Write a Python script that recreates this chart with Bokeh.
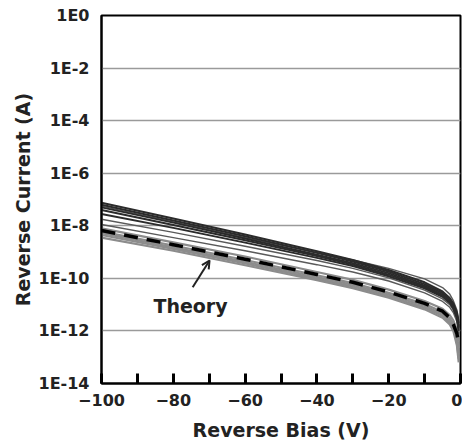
from bokeh.plotting import figure
from bokeh.models import FixedTicker, CustomJSTickFormatter, Arrow, OpenHead
from bokeh.core.properties import value
from bokeh.embed import file_html
from bokeh.resources import INLINE

# Reverse bias voltages (V)
bias = [-100, -80, -60, -40, -30, -20, -10, -5, -3, -2, -1, -0.5]

# log10 of reverse current (A)
dark_curves = [
    [-7.12, -7.72, -8.33, -8.97, -9.30, -9.68, -10.15, -10.50, -10.75, -10.95, -11.30, -11.70],
    [-7.20, -7.80, -8.40, -9.03, -9.36, -9.74, -10.22, -10.56, -10.80, -11.00, -11.35, -11.80],
    [-7.30, -7.88, -8.48, -9.10, -9.42, -9.80, -10.28, -10.62, -10.85, -11.05, -11.40, -11.85],
    [-7.40, -7.97, -8.55, -9.15, -9.47, -9.86, -10.33, -10.66, -10.90, -11.10, -11.45, -11.90],
    [-7.55, -8.08, -8.64, -9.22, -9.53, -9.92, -10.38, -10.70, -10.93, -11.15, -11.50, -12.00],
]
mid_curves = [
    [-7.25, -7.85, -8.45, -9.02, -9.30, -9.62, -10.02, -10.35, -10.60, -10.85, -11.20, -11.60],
    [-7.75, -8.25, -8.78, -9.32, -9.62, -9.98, -10.45, -10.78, -11.00, -11.20, -11.55, -12.00],
    [-7.95, -8.45, -8.95, -9.48, -9.76, -10.10, -10.55, -10.88, -11.10, -11.30, -11.65, -12.10],
]
light_curves = [
    [-8.10, -8.63, -9.17, -9.76, -10.06, -10.43, -10.86, -11.16, -11.40, -11.60, -11.95, -12.40],
    [-8.22, -8.75, -9.30, -9.88, -10.18, -10.55, -10.98, -11.28, -11.52, -11.72, -12.15, -12.65],
    [-8.28, -8.82, -9.37, -9.95, -10.25, -10.62, -11.05, -11.36, -11.60, -11.82, -12.35, -12.90],
    [-8.35, -8.88, -9.43, -10.01, -10.31, -10.68, -11.12, -11.42, -11.68, -11.90, -12.45, -13.05],
    [-8.45, -8.95, -9.50, -10.07, -10.37, -10.74, -11.18, -11.50, -11.75, -12.00, -12.55, -13.20],
]
theory = [-8.18, -8.72, -9.27, -9.85, -10.15, -10.52, -10.95, -11.25, -11.50, -11.75, -12.10, -12.50]

y_tick_exponents = [0, -2, -4, -6, -8, -10, -12, -14]
x_major_ticks = [-100, -80, -60, -40, -20, 0]
x_minor_ticks = [-90, -70, -50, -30, -10]

FONT = "DejaVu Sans"

p = figure(frame_width=359, frame_height=368, x_range=(-100, 0), y_range=(1e-14, 1),
           y_axis_type="log", output_backend="svg", toolbar_location=None,
           min_border_left=101, min_border_right=2, min_border_top=15, min_border_bottom=0)
p.background_fill_color = "white"
p.border_fill_color = "white"
p.outline_line_color = "black"
p.outline_line_width = 2

def cur(vals):
    return [10 ** v for v in vals]

for c in light_curves:
    p.line(bias, cur(c), line_color="#8c8c8c", line_width=2.2)
for c in mid_curves:
    p.line(bias, cur(c), line_color="#5a5a5a", line_width=1.4)
for c in dark_curves:
    p.line(bias, cur(c), line_color="#2b2b2b", line_width=2.0)
p.line(bias, cur(theory), line_color="black", line_width=3.5, line_dash="14 9")

# annotation
p.text(x=[-75.2], y=[10 ** -11.06], text=["Theory"], text_font=value(FONT),
       text_font_style="bold", text_font_size="19px", text_color="#222222",
       text_align="center", text_baseline="middle")
p.add_layout(Arrow(end=OpenHead(size=8, line_color="#222222", line_width=2),
                   x_start=-74.6, y_start=10 ** -10.34, x_end=-69.9, y_end=10 ** -9.32,
                   line_color="#222222", line_width=2))

# axes
p.xaxis.ticker = FixedTicker(ticks=x_major_ticks, minor_ticks=x_minor_ticks)
p.yaxis.ticker = FixedTicker(ticks=[10.0 ** e for e in y_tick_exponents], minor_ticks=[])
p.yaxis.formatter = CustomJSTickFormatter(code="return '1E' + Math.round(Math.log10(tick));")

p.xaxis.axis_label = "Reverse Bias (V)"
p.yaxis.axis_label = "Reverse Current (A)"
for ax in (p.xaxis, p.yaxis):
    ax.axis_label_text_font = FONT
    ax.axis_label_text_font_style = "bold"
    ax.axis_label_text_font_size = "19px"
    ax.axis_label_text_color = "#222222"
    ax.major_label_text_font = FONT
    ax.major_label_text_font_style = "bold"
    ax.major_label_text_font_size = "16px"
    ax.major_label_text_color = "#222222"
    ax.axis_line_color = "black"
    ax.axis_line_width = 2

p.xaxis.major_tick_in = 10
p.xaxis.major_tick_out = 0
p.xaxis.minor_tick_in = 10
p.xaxis.minor_tick_out = 0
p.xaxis.major_tick_line_color = "black"
p.xaxis.minor_tick_line_color = "black"
p.xaxis.major_tick_line_width = 3
p.xaxis.minor_tick_line_width = 3
p.xaxis.major_label_standoff = 10
p.xaxis.axis_label_standoff = 10

p.yaxis.major_tick_line_color = None
p.yaxis.minor_tick_line_color = None
p.yaxis.major_label_standoff = 6
p.yaxis.axis_label_standoff = 2

p.xgrid.grid_line_color = None
p.ygrid.grid_line_color = "#9a9a9a"
p.ygrid.grid_line_width = 1.6

open("out.html", "w").write(file_html(p, INLINE))
